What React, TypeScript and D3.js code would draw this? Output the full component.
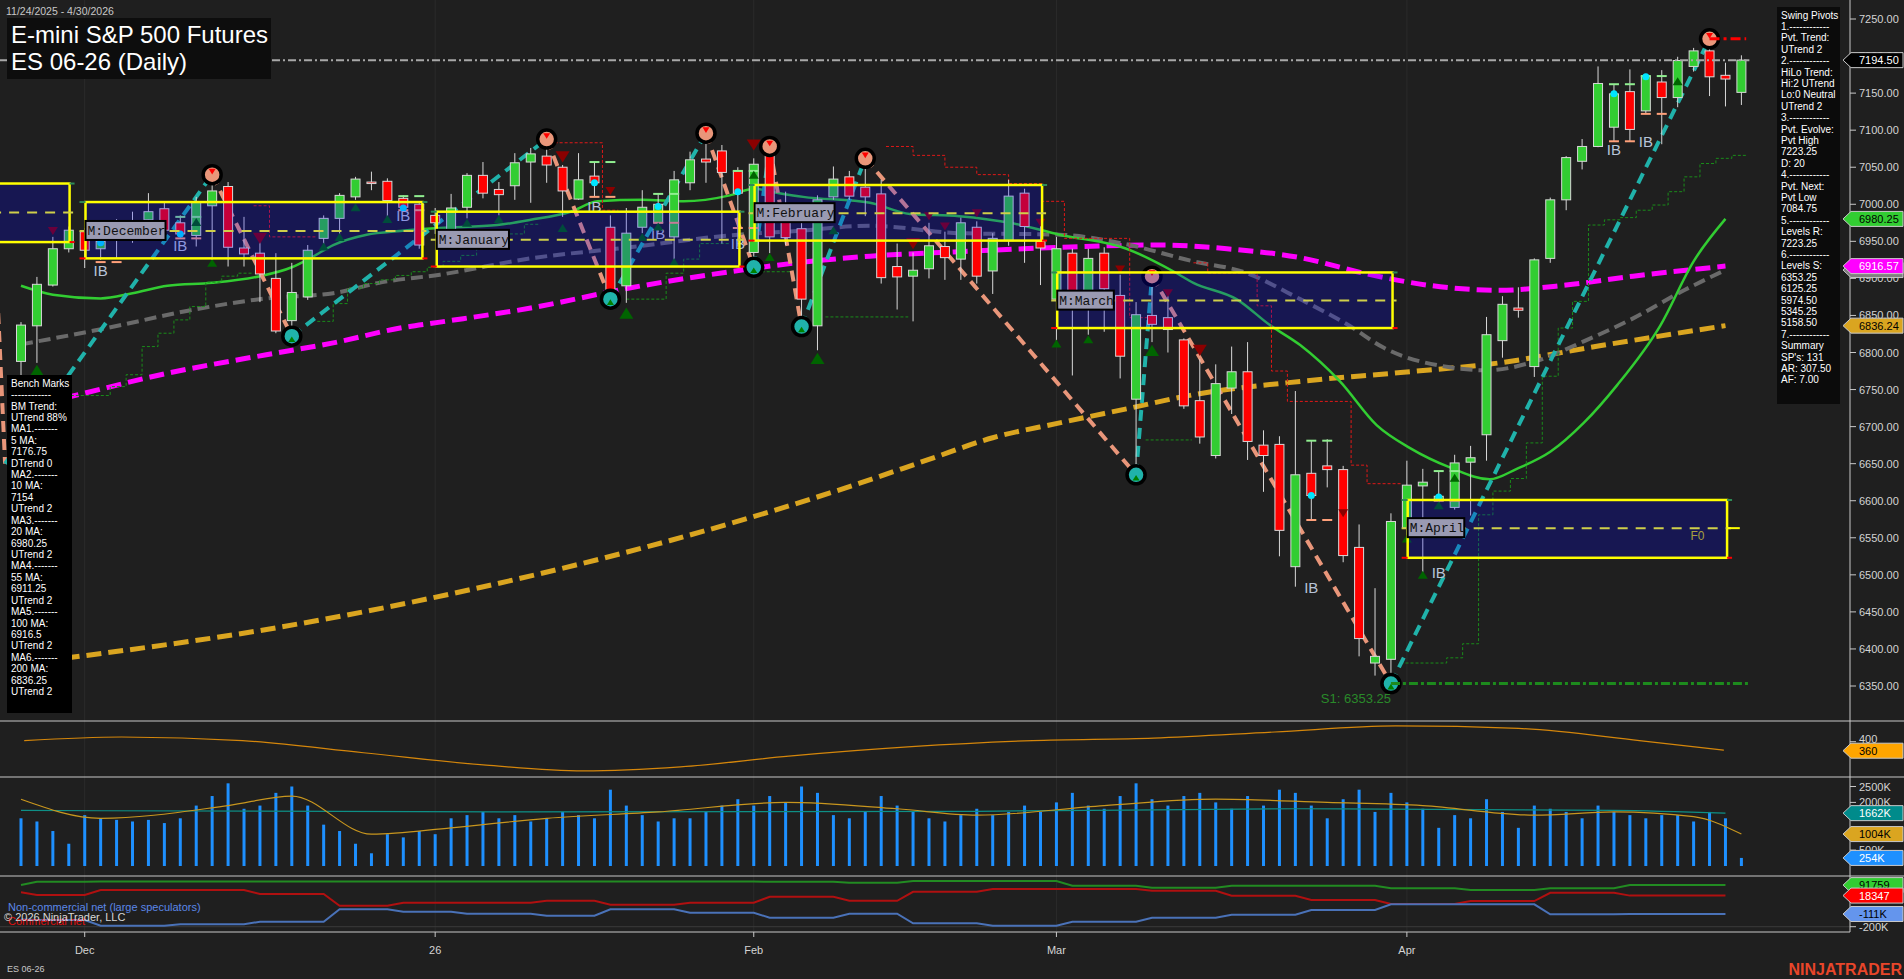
import * as d3 from 'd3';

const W = 1904;
const H = 979;

// daily bars, 11/24/2025 .. 4/30/2026 (index 0 = Nov 24)
const opens = [6788, 6836, 6891, 6940, 6963, 6940, 6954, 6960, 6979, 6994, 6975, 6958, 6998, 7024, 6941, 6934, 6900, 6843, 6875, 6954, 6981, 7010, 7030, 7031, 7008, 7000,
  6985, 6963, 6996, 7039, 7020, 7025, 7057, 7065, 7050, 7007, 7038, 6969, 6890, 6969, 6975, 6956, 7029, 7061, 7072, 7045,
  6935, 7073, 7000, 6967, 6836, 7010, 7037, 7023, 7014, 6916, 6903, 6913, 6943, 6926, 6969, 6910, 6951, 7015, 6950,
  6872, 6934, 6863, 6934, 6877, 6737, 6850, 6847, 6817, 6735, 6661, 6752, 6774, 6675, 6676, 6511, 6637, 6647, 6642, 6537, 6381, 6386,
  6563, 6620, 6600, 6591, 6652, 6689, 6816, 6860, 6781, 6927, 7006, 7058, 7078, 7104, 7152, 7126, 7165, 7144, 7186, 7207, 7174, 7151];
const highs = [6841, 6902, 6956, 6970, 6968, 6975, 6980, 6990, 7015, 7002, 6985, 7010, 7040, 7030, 6983, 6961, 6934, 6921, 6945, 6985, 7015, 7037, 7044, 7035, 7012, 7004,
  6995, 7014, 7042, 7057, 7030, 7069, 7076, 7088, 7053, 7069, 7057, 6985, 6995, 7019, 7015, 7045, 7071, 7096, 7080, 7050,
  7062, 7078, 7017, 6979, 7012, 7051, 7045, 7062, 7033, 6947, 6935, 6975, 6963, 6982, 6977, 6961, 7033, 7021, 6975,
  6956, 6940, 6940, 6942, 6905, 6868, 6903, 6884, 6819, 6791, 6784, 6808, 6814, 6695, 6687, 6748, 6681, 6683, 6647, 6568, 6482, 6583,
  6654, 6643, 6640, 6662, 6674, 6848, 6876, 6888, 6927, 7009, 7065, 7088, 7186, 7162, 7182, 7175, 7181, 7199, 7211, 7223.25, 7191, 7201];
const lows = [6745, 6786, 6889, 6935, 6914, 6925, 6927, 6948, 6965, 6961, 6955, 6943, 6925, 6916, 6916, 6868, 6826, 6822, 6871, 6943, 6954, 7006, 7019, 6979, 6992, 6940,
  6960, 6961, 6981, 7008, 6985, 7006, 7002, 7029, 6983, 7006, 7010, 6872, 6867, 6961, 6962, 6918, 7019, 7029, 6947, 6943,
  6915, 6934, 6945, 6835, 6803, 7006, 7006, 6984, 6893, 6858, 6842, 6900, 6898, 6898, 6893, 6879, 6944, 6921, 6891,
  6814, 6769, 6824, 6828, 6765, 6635, 6814, 6800, 6724, 6677, 6657, 6717, 6655, 6612, 6525, 6484, 6574, 6618, 6517, 6390, 6364, 6353.25,
  6551, 6503, 6597, 6588, 6580, 6654, 6793, 6847, 6767, 6921, 6992, 7047, 7077, 7085, 7085, 7122, 7081, 7131, 7179, 7146, 7132, 7134];
const closes = [6837, 6892, 6940, 6965, 6938, 6950, 6975, 6955, 6990, 6965, 6960, 7003, 7018, 6942, 6933, 6906, 6829, 6881, 6938, 6981, 7012, 7034, 7028, 7005, 6996, 6945,
  6975, 6995, 7039, 7015, 7013, 7056, 7068, 7053, 7018, 7033, 7029, 6881, 6961, 6996, 7000, 7033, 7060, 7057, 7043, 7015,
  7054, 6956, 6955, 6872, 7006, 7034, 7011, 7010, 6901, 6902, 6911, 6944, 6928, 6975, 6903, 6954, 7011, 6970, 6941,
  6940, 6877, 6927, 6886, 6795, 6851, 6838, 6831, 6728, 6686, 6758, 6774, 6680, 6661, 6560, 6635, 6607, 6642, 6526, 6414, 6390, 6572,
  6621, 6625, 6606, 6651, 6658, 6824, 6865, 6857, 6925, 7006, 7063, 7078, 7163, 7149, 7101, 7173, 7144, 7194, 7207, 7172, 7169, 7194.5];

// volume in K contracts
const volumes = [1500, 1400, 1100, 700, 1600, 1500, 1450, 1400, 1450, 1350, 1500, 1900, 2200, 2600, 1800, 1900, 2300, 2500, 1900, 1300, 1100, 700, 400, 1000, 900, 1100,
  1000, 1500, 1600, 1700, 1500, 1600, 1400, 1500, 1700, 1600, 1500, 2400, 1900, 1600, 1400, 1500, 1500, 1700, 1900, 2100,
  1900, 2200, 2000, 2500, 2300, 1600, 1500, 1700, 2200, 1900, 1700, 1500, 1400, 1600, 1800, 1600, 1700, 1900, 1700,
  2000, 2300, 1900, 1800, 2200, 2600, 2100, 1900, 2200, 2300, 2000, 1800, 2200, 1900, 2400, 2300, 1900, 1500, 2100, 2400, 1700, 2300,
  2000, 1800, 1200, 1600, 1500, 2100, 1700, 1200, 1900, 1800, 1700, 1500, 1900, 1700, 1600, 1500, 1600, 1600, 1400, 1700, 1500, 254];
const volAvgSlow: [number, number][] = [[0, 1750], [30, 1700], [60, 1720], [80, 1800], [100, 1750], [107, 1662]];
const volAvgFast: [number, number][] = [[0, 2100], [5, 1500], [13, 1900], [17, 2200], [22, 1000], [27, 1200], [33, 1500], [40, 1700], [48, 2000], [55, 1800],
  [60, 1600], [68, 1900], [75, 2100], [82, 2000], [88, 1900], [95, 1600], [100, 1700], [105, 1550], [108, 1004]];

// moving averages, sampled [bar index, price]
const ma20: [number, number][] = [[0, 6890], [2, 6878], [5, 6873], [7, 6880], [9.2, 6890], [12, 6894], [15, 6903], [17, 6915], [18.3, 6929], [19.6, 6945],
  [21.7, 6959], [23.8, 6964], [26.3, 6968], [29.9, 6972], [32, 6979], [34.5, 6990], [36.2, 7004], [39, 7006], [41.6, 7004], [44.5, 7012], [46, 7021],
  [47.6, 7015], [49.1, 7010], [53.3, 7002], [55.8, 6987], [58.9, 6984], [62.1, 6975], [65.2, 6959], [69.4, 6940], [72.3, 6910], [73.6, 6894],
  [76.3, 6872], [78.4, 6837], [80.3, 6810], [82.8, 6761], [85.1, 6702], [87.2, 6671], [89.7, 6645], [92.2, 6629], [93.9, 6643], [96, 6666],
  [98.1, 6705], [100.2, 6756], [102.9, 6836], [105, 6923], [107, 6980.25]];
const ma55: [number, number][] = [[0, 6811], [5.4, 6833], [10.4, 6856], [15.4, 6873], [19.6, 6880], [22.7, 6895], [26.3, 6905], [32, 6927], [38.2, 6942],
  [44.5, 6958], [48.7, 6964], [53.3, 6971], [58.9, 6961], [65.2, 6959], [69.4, 6946], [73.6, 6923], [76.7, 6909], [80.3, 6872], [83.4, 6836],
  [85.5, 6807], [89.7, 6780], [92, 6776], [94.9, 6787], [98.1, 6815], [101.2, 6846], [104.4, 6884], [107, 6911.25]];
const ma100: [number, number][] = [[0, 6725], [3, 6740], [9.2, 6772], [15.4, 6797], [19.6, 6813], [23.8, 6833], [26.3, 6841], [32, 6860], [38.2, 6887],
  [44.5, 6909], [48.7, 6921], [53.3, 6930], [58.9, 6936], [65.2, 6942], [71.5, 6945], [75.7, 6940], [80.3, 6928], [84.5, 6906], [88.6, 6890],
  [92.8, 6884], [97, 6891], [101.2, 6903], [107, 6916.57]];
const ma200: [number, number][] = [[0, 6380], [3.3, 6389], [15.6, 6427], [28.2, 6480], [40.7, 6546], [52.7, 6624], [56.9, 6655], [61, 6685], [65.2, 6705],
  [69.4, 6724], [73.6, 6743], [80.3, 6761], [86.6, 6773], [92.8, 6786], [99.1, 6809], [107, 6836.24]];

// swing pivots [bar index, price]; the first two lie before the visible range
const swingPivots: [number, number][] = [[-2, 7120], [-1, 6650], [12, 7040], [17, 6822], [33, 7088], [37, 6872], [43, 7096], [46, 6915], [47, 7078],
  [49, 6835], [53, 7062], [70, 6635], [71, 6903], [86, 6353.25], [106, 7223.25]];

// trailing stop steps [from index, to index, price]
const stopsUp: [number, number, number][][] = [
  [[2.5, 5.6, 6742], [5.6, 6.6, 6754], [6.6, 7.6, 6770], [7.6, 8.6, 6808], [8.6, 9.6, 6826], [9.6, 10.6, 6844], [10.6, 11.6, 6862], [11.6, 12.6, 6895], [12.6, 13.6, 6903], [13.6, 14.6, 6907]],
  [[18.6, 19.6, 6842], [19.6, 20.5, 6866], [20.5, 21.5, 6887], [21.5, 22.5, 6893], [22.5, 23.5, 6898], [23.5, 24.5, 6904], [24.5, 25.5, 6909], [25.5, 26.5, 6915],
    [26.5, 27.6, 6923], [27.6, 28.6, 6931], [28.6, 29.6, 6940], [29.6, 30.6, 6950], [30.6, 31.6, 6960], [31.6, 32.6, 6973]],
  [[38, 40.5, 6872], [40.5, 41.6, 6907], [41.6, 42.6, 6926], [42.6, 44.5, 6947]],
  [[46.5, 48.5, 6909]],
  [[50.5, 55.7, 6848]],
  [[70.6, 73.5, 6682]],
  [[86.6, 89.5, 6381], [89.5, 90.5, 6388], [90.5, 91.5, 6407], [91.5, 92.4, 6581], [92.4, 93.5, 6613], [93.5, 94.5, 6630], [94.5, 95.5, 6678], [95.5, 96.5, 6768],
    [96.5, 97.4, 6833], [97.4, 98.4, 6869], [98.4, 99.4, 6972], [99.4, 100.4, 6979], [100.4, 101.4, 6982], [101.4, 102.4, 6992], [102.4, 103.4, 6999],
    [103.4, 104.4, 7017], [104.4, 105.4, 7037], [105.4, 106.4, 7055], [106.4, 107.4, 7062], [107.4, 108.4, 7066]],
];
const stopsDown: [number, number, number][][] = [
  [[14.6, 15.6, 6998], [15.6, 18.6, 6956]],
  [[33.5, 36.5, 7083], [36.5, 37.5, 6992]],
  [[54.3, 56, 7078], [56, 58, 7066], [58, 60, 7050], [60, 62, 7040], [62, 64.1, 7028], [64.1, 65.5, 7004], [65.5, 69.6, 6954], [69.6, 70.7, 6847]],
  [[73.6, 74.5, 6921], [74.5, 77.6, 6907], [77.6, 78.5, 6863], [78.5, 79.5, 6775], [79.5, 83.5, 6734], [83.5, 84.5, 6648], [84.5, 86.6, 6623]],
];

// monthly boxes
const boxNames = ['', 'M:December', 'M:January', 'M:February', 'M:March', 'M:April'];
const boxFrom = [-1.5, 4.05, 26.1, 46.05, 65.05, 87.05];
const boxTo = [3.05, 25.2, 45.1, 64.1, 86.1, 107.1];
const boxHigh = [7028, 7003, 6990, 7026, 6908, 6601];
const boxLow = [6949, 6927, 6916, 6951, 6833, 6523];
const boxMid = [6989, 6964, 6952, 6988, 6870, 6563];

// markers [bar index, price, big?]
const upMarks: [number, number, number][] = [[1, 6776, 1], [11, 6976, 0], [12, 6921, 0], [17, 6818, 0], [19, 6943, 0], [20, 6956, 0], [21, 6996, 0], [23, 6980, 0],
  [28, 6975, 0], [30, 6980, 0], [34, 6968, 0], [37, 6866, 0], [38, 6853, 1], [39, 6956, 0], [40, 6970, 0], [41, 6922, 0], [46, 7040, 0], [47, 6929, 0],
  [50, 6792, 1], [51, 6965, 0], [65, 6812, 0], [67, 6818, 0], [71, 6803, 1], [87, 6549, 0], [88, 6500, 0], [89, 6594, 0], [90, 6631, 0], [104, 7166, 0]];
const downMarks: [number, number, number][] = [[2, 6964, 0], [15, 6954, 1], [34, 7064, 1], [37, 7018, 0], [46, 7080, 1], [56, 6947, 1], [57, 6984, 0],
  [58, 6970, 0], [60, 6988, 0], [64, 6975, 0], [69, 6912, 0], [72, 6880, 0], [74, 6803, 1], [83, 6583, 0]];
const ibBars = [5, 10, 24, 36, 40, 45, 81, 89, 100, 102];
const ibLabel = [6911, 6945, 6985, 6998, 6961, 6948, 6483, 6504, 7075, 7085];
const ibDot = [6948, 6960, 6995, 7029, 6997, 7017, 6607, 6605, 7149, 7172];
const ibTop = [6974, 6983, 7011, 7057, 7014, 7045, 6681, 6640, 7162, 7173];
const ibBottom = [6922, 6954, 6992, 7010, 6975, 6968, 6574, 6600, 7085, 7122];

// lower panels
const oscLine: [number, number][] = [[0.2, 405], [6.3, 421], [13.9, 405], [21.5, 351], [29.2, 296], [35.3, 270], [41.4, 288], [48.2, 336], [55.9, 378],
  [63.5, 405], [71.1, 416], [78.7, 443], [86.3, 470], [94, 459], [101.6, 405], [106.9, 362]];
const cotWeeks = [0, 1, 5, 10, 15, 20, 24, 28, 33, 37, 42, 47, 52, 56, 61, 66, 71, 76, 81, 86, 91, 96, 101, 107];
const cotLarge = [92, 115, 117, 117, 117, 117, 117, 117, 117, 117, 117, 115, 108, 120, 120, 87, 73, 87, 87, 69, 57, 69, 92, 92];
const cotComm = [41, 22, 57, 57, 29, -53, -32, -32, -18, -46, -32, 10, -18, 45, 64, 64, 52, 17, -13, -41, -20, 38, 18, 18];
const cotSpec = [-150, -153, -193, -183, -165, -78, -95, -109, -123, -78, -102, -137, -109, -176, -193, -165, -137, -116, -83, -43, -43, -113, -111, -111];

const xTicks: [number, string][] = [[4, 'Dec'], [26, '26'], [46, 'Feb'], [65, 'Mar'], [87, 'Apr']];
const priceTicks = d3.range(6350, 7251, 50);
const oscTicks = [400];
const volTicks = [500, 2000, 2500];
const cotTicks = [-200];

const swingLines = ['Swing Pivots', '1.------------', 'Pvt. Trend:', 'UTrend 2', '2.------------', 'HiLo Trend:', 'Hi:2 UTrend', 'Lo:0 Neutral', 'UTrend 2',
  '3.------------', 'Pvt. Evolve:', 'Pvt High', '7223.25', 'D: 20', '4.------------', 'Pvt. Next:', 'Pvt Low', '7084.75', '5.------------', 'Levels R:',
  '7223.25', '6.------------', 'Levels S:', '6353.25', '6125.25', '5974.50', '5345.25', '5158.50', '7.------------', 'Summary', "SP's: 131", 'AR: 307.50', 'AF: 7.00'];
const benchLines = ['Bench Marks', '------------', 'BM Trend:', 'UTrend 88%', 'MA1.-------', '5 MA:', '7176.75', 'DTrend 0', 'MA2.-------', '10 MA:', '7154',
  'UTrend 2', 'MA3.-------', '20 MA:', '6980.25', 'UTrend 2', 'MA4.-------', '55 MA:', '6911.25', 'UTrend 2', 'MA5.-------', '100 MA:', '6916.5',
  'UTrend 2', 'MA6.-------', '200 MA:', '6836.25', 'UTrend 2'];

const FONT = '"Liberation Sans", Arial, sans-serif';
const AXIS_X = 1850;

function Flag({ y, text, fill, color, stroke = '#c8c8c8' }: { y: number; text: string; fill: string; color: string; stroke?: string }) {
  const h = 7.5;
  const d = `M${AXIS_X - 7},${y} L${AXIS_X + 1},${y - h} L1903,${y - h} L1903,${y + h} L${AXIS_X + 1},${y + h} Z`;
  return (
    <g>
      <path d={d} fill={fill} stroke={stroke} strokeWidth={1} />
      <text x={AXIS_X + 9} y={y + 4} fontSize={11} fill={color} fontFamily={FONT}>{text}</text>
    </g>
  );
}

export default function App() {
  const x = d3.scaleLinear().domain([0, 108]).range([21, 1741.4]);
  const y = d3.scaleLinear().domain([6350, 7250]).range([686, 19]);
  const yVol = d3.scaleLinear().domain([0, 2500]).range([866, 786.5]);
  const yOsc = d3.scaleLinear().domain([360, 400]).range([750.7, 741.7]);
  const yCot = d3.scaleLinear().domain([-200, 91.759]).range([926.7, 885.1]);

  const maLine = d3.line<[number, number]>().x(d => x(d[0])).y(d => y(d[1])).curve(d3.curveMonotoneX);
  const volLine = d3.line<[number, number]>().x(d => x(d[0])).y(d => yVol(d[1])).curve(d3.curveMonotoneX);
  const oscPath = d3.line<[number, number]>().x(d => x(d[0])).y(d => yOsc(d[1])).curve(d3.curveMonotoneX);

  const stepPath = (segs: [number, number, number][]) => {
    let d = '';
    segs.forEach((s, k) => {
      d += `${k === 0 ? 'M' : 'L'}${x(s[0])},${y(s[2])} L${x(s[1])},${y(s[2])} `;
    });
    return d;
  };

  const cotPath = (vals: number[]) => {
    const pts: [number, number][] = [];
    cotWeeks.forEach((w, k) => {
      if (k > 0) pts.push([w - 1 < cotWeeks[k - 1] ? cotWeeks[k - 1] : w - 1, vals[k - 1]]);
      pts.push([w, vals[k]]);
    });
    return d3.line<[number, number]>().x(d => x(d[0])).y(d => yCot(d[1]))(pts) || '';
  };

  const bw = 9;
  const bars = d3.range(opens.length);

  const tri = (cx: number, cy: number, s: number, up: boolean) =>
    up ? `M${cx - s},${cy + s * 0.8} L${cx + s},${cy + s * 0.8} L${cx},${cy - s * 0.8} Z`
      : `M${cx - s},${cy - s * 0.8} L${cx + s},${cy - s * 0.8} L${cx},${cy + s * 0.8} Z`;

  return (
    <div style={{ position: 'fixed', left: 0, top: 0, width: W, height: H }}>
      <svg width={W} height={H} style={{ display: 'block', background: '#1f1f1f' }} fontFamily={FONT}>
        <defs>
          <clipPath id="mainClip"><rect x={0} y={0} width={AXIS_X} height={721} /></clipPath>
        </defs>

        {/* month grid */}
        {xTicks.map(([i]) => (
          <line key={'g' + i} x1={x(i)} x2={x(i)} y1={0} y2={932} stroke="#2b2b2b" strokeWidth={1} />
        ))}

        <g clipPath="url(#mainClip)">
          {/* moving averages */}
          <path d={maLine(ma200) || ''} fill="none" stroke="#daa520" strokeWidth={5} strokeDasharray="15,7" />
          <path d={maLine(ma100) || ''} fill="none" stroke="#ff00ff" strokeWidth={5} strokeDasharray="15,7" />
          <path d={maLine(ma55) || ''} fill="none" stroke="#6a6a6a" strokeWidth={4} strokeDasharray="12,6" />
          <path d={maLine(ma20) || ''} fill="none" stroke="#32cd32" strokeWidth={2.5} />

          {/* trailing stops */}
          {stopsUp.map((s, k) => (
            <path key={'su' + k} d={stepPath(s)} fill="none" stroke="#1a8c1a" strokeWidth={1} strokeDasharray="3,2" />
          ))}
          {stopsDown.map((s, k) => (
            <path key={'sd' + k} d={stepPath(s)} fill="none" stroke="#e01818" strokeWidth={1} strokeDasharray="3,2" />
          ))}

          {/* swing lines */}
          {swingPivots.slice(1).map((p, k) => {
            const a = swingPivots[k];
            const up = p[1] > a[1];
            return (
              <line key={'sw' + k} x1={x(a[0])} y1={y(a[1])} x2={x(p[0])} y2={y(p[1])}
                stroke={up ? '#20b2aa' : '#e9967a'} strokeWidth={4} strokeDasharray="11,7" />
            );
          })}

          {/* candles */}
          {bars.map(i => {
            const up = closes[i] >= opens[i];
            const top = y(Math.max(opens[i], closes[i]));
            const bot = y(Math.min(opens[i], closes[i]));
            return (
              <g key={'c' + i}>
                <line x1={x(i)} x2={x(i)} y1={y(highs[i])} y2={y(lows[i])} stroke="#d8d8d8" strokeWidth={1} />
                <rect x={x(i) - bw / 2} y={top} width={bw} height={Math.max(1.5, bot - top)}
                  fill={up ? '#32cd32' : '#ff0000'} stroke="#d8d8d8" strokeWidth={1} />
              </g>
            );
          })}

          {/* inside bar markers */}
          {ibBars.map((i, k) => (
            <g key={'ib' + i}>
              {[i, i + 1].map(j => (
                <g key={j}>
                  <line x1={x(j) - 5} x2={x(j) + 5} y1={y(ibTop[k])} y2={y(ibTop[k])} stroke="#90ee90" strokeWidth={2} />
                  <line x1={x(j) - 5} x2={x(j) + 5} y1={y(ibBottom[k])} y2={y(ibBottom[k])} stroke="#ffa07a" strokeWidth={2} />
                </g>
              ))}
              <circle cx={x(i)} cy={y(ibDot[k])} r={3.5} fill="#00e5ff" />
              <text x={x(i)} y={y(ibLabel[k]) + 6} fontSize={15} fill="#b8c4d8" textAnchor="middle">IB</text>
            </g>
          ))}
          {upMarks.map(([i, p, big], k) => (
            <path key={'um' + k} d={tri(x(i), y(p), big ? 7 : 5, true)} fill="#006400" />
          ))}
          {downMarks.map(([i, p, big], k) => (
            <path key={'dm' + k} d={tri(x(i), y(p), big ? 7 : 5, false)} fill="#8b0000" />
          ))}

          {/* pivot circles (only the visible ones) */}
          {swingPivots.map(([i, p], k) => {
            if (i < 0) return null;
            const isHigh = p > swingPivots[k - 1][1];
            return (
              <g key={'pv' + k}>
                <circle cx={x(i)} cy={y(p)} r={9} fill={isHigh ? '#e9967a' : '#20b2aa'} stroke="#000" strokeWidth={3.5} />
                <path d={tri(x(i), y(p) + (isHigh ? -3 : 3), 3.5, !isHigh)} fill={isHigh ? '#ff0000' : '#008000'} />
              </g>
            );
          })}

          {/* monthly boxes */}
          {boxNames.map((name, k) => {
            const x0 = x(boxFrom[k]);
            const x1 = x(boxTo[k]);
            const y0 = y(boxHigh[k]);
            const y1 = y(boxLow[k]);
            const ym = y(boxMid[k]);
            return (
              <g key={'bx' + k}>
                <rect x={x0} y={y0} width={x1 - x0} height={y1 - y0} fill="#0000ff" fillOpacity={0.23} stroke="#ffff00" strokeWidth={2.5} />
                <line x1={x0 - 6} x2={x1 + 4} y1={ym} y2={ym} stroke="#cfcf4a" strokeWidth={2} strokeDasharray="10,8" />
                <line x1={x0 - 6} x2={x0} y1={y0} y2={y0} stroke="#2e8b57" strokeWidth={2} />
                <line x1={x0 - 6} x2={x0} y1={y1} y2={y1} stroke="#ff0000" strokeWidth={2} />
                <line x1={x1} x2={x1 + 5} y1={y0} y2={y0} stroke="#2e8b57" strokeWidth={2} />
                <line x1={x1} x2={x1 + 5} y1={y1} y2={y1} stroke="#ff0000" strokeWidth={2} />
                {name && (
                  <g>
                    <rect x={x0} y={ym - 10} width={name.length * 7.8 + 2} height={19} fill="#9a9ab2" stroke="#000" strokeWidth={2} />
                    <text x={x0 + 2} y={ym + 4} fontSize={13} fill="#111" fontFamily='"Liberation Mono", monospace'>{name}</text>
                  </g>
                )}
              </g>
            );
          })}
          <line x1={x(107.1)} x2={x(107.9)} y1={y(6563)} y2={y(6563)} stroke="#ffff00" strokeWidth={2} />
          <text x={x(104.8)} y={y(6563) + 12} fontSize={12} fill="#a8a040">F0</text>

          {/* last price / levels */}
          <line x1={0} x2={x(108.5)} y1={y(7194.5)} y2={y(7194.5)} stroke="#a8a8a8" strokeWidth={2} strokeDasharray="8,3,2,3" />
          <line x1={x(106)} x2={x(108.3)} y1={y(7223.25)} y2={y(7223.25)} stroke="#ff0000" strokeWidth={3} strokeDasharray="10,4,3,4" />
          <line x1={x(86)} x2={x(108.5)} y1={y(6353.25)} y2={y(6353.25)} stroke="#1d8a1d" strokeWidth={3} strokeDasharray="9,3,3,3" />
          <text x={x(81.6)} y={y(6353.25) + 19} fontSize={13} fill="#2a8a2a">S1: 6353.25</text>
        </g>

        {/* oscillator panel */}
        <path d={oscPath(oscLine) || ''} fill="none" stroke="#d4860b" strokeWidth={1.2} />

        {/* volume panel */}
        {bars.map(i => (
          <rect key={'v' + i} x={x(i) - 1.5} y={yVol(volumes[i])} width={3} height={yVol(0) - yVol(volumes[i])} fill="#1e90ff" />
        ))}
        <path d={volLine(volAvgSlow) || ''} fill="none" stroke="#0e8f86" strokeWidth={1.2} />
        <path d={volLine(volAvgFast) || ''} fill="none" stroke="#c8961e" strokeWidth={1.2} />

        {/* COT panel */}
        <line x1={0} x2={AXIS_X} y1={yCot(-200)} y2={yCot(-200)} stroke="#3a3a3a" strokeWidth={1} />
        <path d={cotPath(cotLarge)} fill="none" stroke="#228b22" strokeWidth={2} />
        <path d={cotPath(cotComm)} fill="none" stroke="#b01010" strokeWidth={2} />
        <path d={cotPath(cotSpec)} fill="none" stroke="#4a72b8" strokeWidth={2} />
        <text x={8} y={911} fontSize={11} fill="#5b87e8">Non-commercial net (large speculators)</text>
        <text x={8} y={925} fontSize={11} fill="#e01010">Commercial net</text>
        <text x={4} y={921} fontSize={11} fill="#d8d8d8">© 2026 NinjaTrader, LLC</text>

        {/* panel separators and axes */}
        {[721, 777, 876].map(v => (
          <line key={'sep' + v} x1={0} x2={W} y1={v} y2={v} stroke="#c8c8c8" strokeWidth={1} />
        ))}
        <line x1={0} x2={AXIS_X} y1={932} y2={932} stroke="#c8c8c8" strokeWidth={1} />
        <line x1={AXIS_X} x2={AXIS_X} y1={0} y2={932} stroke="#c8c8c8" strokeWidth={1} />
        {xTicks.map(([i, label]) => (
          <g key={'xt' + i}>
            <line x1={x(i)} x2={x(i)} y1={932} y2={937} stroke="#c8c8c8" />
            <text x={x(i)} y={954} fontSize={11} fill="#d4d4d4" textAnchor="middle">{label}</text>
          </g>
        ))}
        {priceTicks.map(p => (
          <g key={'pt' + p}>
            <line x1={AXIS_X} x2={AXIS_X + 6} y1={y(p)} y2={y(p)} stroke="#c8c8c8" />
            <text x={AXIS_X + 9} y={y(p) + 4} fontSize={11} fill="#d4d4d4">{p.toFixed(2)}</text>
          </g>
        ))}
        {oscTicks.map(v => (
          <g key={'ot' + v}>
            <line x1={AXIS_X} x2={AXIS_X + 6} y1={yOsc(v)} y2={yOsc(v)} stroke="#c8c8c8" />
            <text x={AXIS_X + 9} y={yOsc(v) + 1} fontSize={11} fill="#d4d4d4">{v}</text>
          </g>
        ))}
        {volTicks.map(v => (
          <g key={'vt' + v}>
            <line x1={AXIS_X} x2={AXIS_X + 6} y1={yVol(v)} y2={yVol(v)} stroke="#c8c8c8" />
            <text x={AXIS_X + 9} y={yVol(v) + 4} fontSize={11} fill="#d4d4d4">{v}K</text>
          </g>
        ))}
        {cotTicks.map(v => (
          <g key={'ct' + v}>
            <line x1={AXIS_X} x2={AXIS_X + 6} y1={yCot(v)} y2={yCot(v)} stroke="#c8c8c8" />
            <text x={AXIS_X + 9} y={yCot(v) + 4} fontSize={11} fill="#d4d4d4">{v}K</text>
          </g>
        ))}

        {/* value flags */}
        <Flag y={y(7194.5)} text="7194.50" fill="#000000" color="#ffffff" />
        <Flag y={y(6980.25)} text="6980.25" fill="#32cd32" color="#000000" />
        <Flag y={y(6911.25)} text="6911.25" fill="#808080" color="#ffffff" />
        <Flag y={y(6916.57)} text="6916.57" fill="#ff00ff" color="#ffffff" />
        <Flag y={y(6836.24)} text="6836.24" fill="#daa520" color="#000000" />
        <Flag y={yOsc(360)} text="360" fill="#ffa500" color="#000000" />
        <Flag y={yVol(1662)} text="1662K" fill="#008b8b" color="#ffffff" />
        <Flag y={yVol(1004)} text="1004K" fill="#daa520" color="#000000" />
        <Flag y={yVol(254)} text="254K" fill="#1e90ff" color="#ffffff" />
        <Flag y={yCot(91.759)} text="91759" fill="#32cd32" color="#000000" />
        <Flag y={yCot(18.347)} text="18347" fill="#ff0000" color="#ffffff" />
        <Flag y={yCot(-111)} text="-111K" fill="#6495ed" color="#000000" />

        {/* info boxes */}
        <rect x={1777} y={7} width={63} height={397} fill="#0b0b0b" />
        {swingLines.map((t, k) => (
          <text key={'sl' + k} x={1781} y={18.5 + k * 11.4} fontSize={10} fill="#ffffff">{t}</text>
        ))}
        <rect x={7} y={375} width={65} height={338} fill="#000000" />
        {benchLines.map((t, k) => (
          <text key={'bl' + k} x={11} y={386.7 + k * 11.42} fontSize={10} fill="#ffffff">{t}</text>
        ))}

        {/* title */}
        <text x={6} y={15} fontSize={10.5} fill="#c8c8c8">11/24/2025 - 4/30/2026</text>
        <rect x={7} y={18} width={264} height={61} fill="#0d0d0d" />
        <text x={11} y={43} fontSize={24} fill="#ffffff">E-mini S&amp;P 500 Futures</text>
        <text x={11} y={70} fontSize={24} fill="#ffffff">ES 06-26 (Daily)</text>

        <text x={7} y={972} fontSize={9} fill="#c8c8c8">ES 06-26</text>
        <text x={1902} y={975} fontSize={16} fontWeight="bold" fill="#e8462a" textAnchor="end">NINJATRADER</text>
      </svg>
    </div>
  );
}
